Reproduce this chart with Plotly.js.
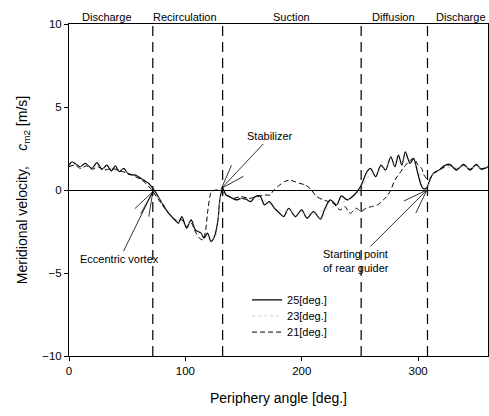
<!DOCTYPE html>
<html>
<head>
<meta charset="utf-8">
<script src="https://cdn.plot.ly/plotly-3.0.1.min.js"></script>
<style>html,body{margin:0;padding:0;background:#fff;}#chart{width:489px;height:416px;}</style>
</head>
<body>
<div id="chart"></div>
<script>
// Series 25 [deg.] (solid)
var angle25 = [0,2.6,6,9.7,14,19.7,24,28.3,32.6,36.4,39.8,43.2,47,51.3,57,64,68.5,74,80,85.6,91,94,97,101,105,108.5,113.5,116,119,122,125,128,129.6,132,135,138,143.6,148,152,156,160,164,168,172,176.6,181,184.5,188.8,194.5,200,204.5,210,216,220,224.5,230,234,239,245,250.4,256,259,263.5,268,272,276.5,280,283,286,289,293,296,299,302,304,307,310,313,318,322,327,333,339,344.5,350,354,360];
var vel25 = [1.5,1.7,1.55,1.4,1.6,1.3,1.65,1.25,1.5,1.15,1.45,1.1,1.3,0.95,0.9,0.6,0.4,-0.1,-0.8,-1.4,-1.8,-2.0,-1.6,-2.3,-1.8,-2.4,-2.6,-2.9,-2.6,-3.1,-2.8,-1.8,-0.6,0.1,-0.3,-0.4,-0.6,-0.5,-0.55,-0.7,-0.4,-0.35,-0.9,-0.7,-1.1,-1.4,-1.6,-1.1,-1.6,-1.2,-1.7,-1.3,-1.75,-1.1,-0.6,-0.9,-0.35,-0.6,-0.3,0.2,1.1,1.3,0.8,1.5,1.2,2.0,1.4,2.1,1.5,2.3,1.6,1.9,1.2,0.4,0.1,0.1,0.6,1.0,1.2,1.45,1.55,1.2,1.55,1.2,1.55,1.25,1.4];

// Series 23 [deg.] (dotted)
var angle23 = [0,5,10,15,20,25,30,35,40,45,50,55,60,65,70,75,80,85,90,95,100,105,110,115,120,125,128,131,134,140,150,160,170,180,190,200,210,220,230,240,250,255,260,265,270,275,280,285,290,295,300,304,308,312,318,325,335,345,355,360];
var vel23 = [1.45,1.55,1.4,1.5,1.35,1.45,1.3,1.35,1.2,1.25,1.05,0.9,0.75,0.5,0.2,-0.3,-0.8,-1.3,-1.7,-1.9,-2.1,-2.0,-2.4,-2.7,-2.8,-2.9,-2.0,-0.3,-0.3,-0.5,-0.5,-0.5,-0.7,-1.2,-1.3,-1.4,-1.4,-1.2,-0.9,-0.6,-0.1,0.6,1.0,1.1,1.3,1.6,1.6,1.8,1.9,1.7,1.3,0.3,0.2,0.9,1.2,1.35,1.4,1.35,1.35,1.35];

// Series 21 [deg.] (dashed)
var angle21 = [0,5,10,15,20,25,30,37,44,51,57,62.7,70,77,85.6,91,97,101,105,108.5,112,115,117,119,121,122.4,126,130.6,133,135,141,148,155,162,168,172.7,176,181,185,189.8,194,198.4,203,207,212.9,218.6,223,227,233,237,241.6,247,251,255,260,265,270,274,276.5,280,284,288,292,296,300,303,305,309,313,318,327,333,339,344.5,350,354,360];
var vel21 = [1.4,1.5,1.3,1.45,1.25,1.4,1.2,1.3,1.15,1.0,0.8,0.6,0.1,-0.6,-1.4,-1.8,-1.8,-2.2,-2.0,-2.5,-2.9,-3.0,-2.6,-1.4,-0.4,-0.1,0,0,-0.2,-0.3,-0.5,-0.4,-0.5,-0.4,-0.3,-0.3,0,0.3,0.5,0.6,0.5,0.4,0.3,0.1,-0.4,-0.6,-0.7,-0.8,-1.2,-1.0,-1.4,-1.1,-1.3,-1.1,-1.0,-0.9,-0.6,-0.3,0,0.6,1.0,1.4,1.7,1.9,1.5,1.3,0.9,0.6,1.0,1.2,1.5,1.25,1.5,1.25,1.5,1.3,1.35];

var seriesNames = ["25[deg.]", "23[deg.]", "21[deg.]"];

// Region boundaries and labels
var regionBoundaries = [72, 132, 251, 308];
var regionLabels = ["Discharge", "Recirculation", "Suction", "Diffusion", "Discharge"];
var regionCenters = [33, 99.5, 191, 279, 337];

var xTicks = [0, 100, 200, 300];
var yTicks = [-10, -5, 0, 5, 10];

var FONT = "Liberation Sans, Arial, sans-serif";

var traces = [
  {x: angle25, y: vel25, name: seriesNames[0], mode: "lines", type: "scatter", legend: "legend",
   line: {color: "#000", width: 1.2, shape: "spline", smoothing: 0.8}},
  {x: angle23, y: vel23, name: seriesNames[1], mode: "lines", type: "scatter", legend: "legend2",
   line: {color: "#b5b5b5", width: 0.7, dash: "dot", shape: "spline", smoothing: 0.8}},
  {x: angle21, y: vel21, name: seriesNames[2], mode: "lines", type: "scatter", legend: "legend3",
   line: {color: "#000", width: 1, dash: "5px,3px", shape: "spline", smoothing: 0.8}}
];

var shapes = regionBoundaries.map(function(b){
  return {type: "line", xref: "x", yref: "y", x0: b, x1: b, y0: -10, y1: 10,
          line: {color: "#000", width: 1.2, dash: "10px,6px"}};
});

// short "fan" strokes at the arrow tips (pixel offsets from the tip)
function fan(x, y, dx, dy) {
  shapes.push({type: "line", xref: "x", yref: "y",
               xsizemode: "pixel", xanchor: x, x0: 0, x1: dx,
               ysizemode: "pixel", yanchor: y, y0: 0, y1: dy,
               line: {color: "#000", width: 0.8}});
}
fan(72, -0.1, -18, -17);
fan(72, -0.1, -4, -25);
fan(72, -0.1, -12, -22);
fan(131, 0.1, 22, 12);
fan(131, 0.1, 10, 23);
fan(307.5, 0, -11, -23);
fan(307.5, 0, -23, -11);

var annotations = regionLabels.map(function(t, i){
  return {text: t, x: regionCenters[i], xref: "x", y: 1, yref: "paper",
          yanchor: "bottom", showarrow: false, yshift: -1,
          font: {family: FONT, size: 11, color: "#000"}};
});

function arrowAnn(text, x, y, ax, ay, extra) {
  var a = {text: text, x: x, y: y, xref: "x", yref: "y", ax: ax, ay: ay,
           showarrow: true, arrowhead: 0, arrowwidth: 0.8, arrowcolor: "#000",
           standoff: 0, startstandoff: 0,
           font: {family: FONT, size: 11, color: "#000"}};
  if (extra) for (var k in extra) a[k] = extra[k];
  return a;
}

annotations.push(arrowAnn("Eccentric vortex", 72, -0.1, -33, 67));
annotations.push(arrowAnn("Stabilizer", 131, 0.1, 49, -52));
annotations.push(arrowAnn("Starting point<br>of rear guider", 307.5, 0, -71, 71, {align: "left"}));

function legendBox(yc) {
  return {x: 0.425, y: yc, xanchor: "left", yanchor: "middle", bgcolor: "rgba(0,0,0,0)",
          borderwidth: 0, font: {family: FONT, size: 11, color: "#000"}};
}

var NB = "\u00a0";
var yTitle = "Meridional velocity," + NB + NB + NB + NB + "<i>c</i><sub>m2</sub> [m/s]" +
             NB + NB + NB + NB + NB + NB + NB + NB + NB + NB;

var layout = {
  width: 489, height: 416,
  margin: {l: 69, r: 1, t: 24, b: 60, pad: 0},
  paper_bgcolor: "#fff", plot_bgcolor: "#fff",
  font: {family: FONT, size: 11, color: "#000"},
  showlegend: true,
  legend: legendBox(0.169),
  legend2: legendBox(0.121),
  legend3: legendBox(0.072),
  xaxis: {range: [0, 360], tickvals: xTicks, ticks: "outside", ticklen: 4, tickcolor: "#000",
          showline: true, mirror: true, linecolor: "#000", linewidth: 1, showgrid: false, zeroline: false,
          tickfont: {family: FONT, size: 11.5},
          title: {text: "Periphery angle [deg.]", font: {family: FONT, size: 14}, standoff: 17}},
  yaxis: {range: [-10, 10], tickvals: yTicks, ticks: "outside", ticklen: 4, tickcolor: "#000",
          showline: true, mirror: true, linecolor: "#000", linewidth: 1, showgrid: false,
          zeroline: true, zerolinecolor: "#000", zerolinewidth: 1,
          tickfont: {family: FONT, size: 11.5},
          title: {text: yTitle, font: {family: FONT, size: 14}, standoff: 11}},
  shapes: shapes,
  annotations: annotations
};

Plotly.newPlot("chart", traces, layout, {staticPlot: true, displayModeBar: false});
</script>
</body>
</html>
